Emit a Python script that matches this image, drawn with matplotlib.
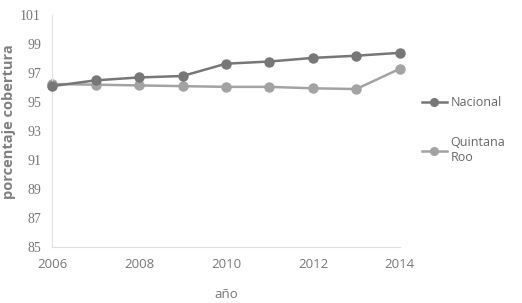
import matplotlib
matplotlib.use("Agg")
import matplotlib.pyplot as plt

years = [2006, 2007, 2008, 2009, 2010, 2011, 2012, 2013, 2014]
nacional = [96.1, 96.5, 96.7, 96.8, 97.65, 97.8, 98.05, 98.2, 98.4]
quintana_roo = [96.25, 96.2, 96.15, 96.1, 96.05, 96.05, 95.95, 95.9, 97.3]
series_labels = ["Nacional", "Quintana\nRoo"]
y_ticks = [85, 87, 89, 91, 93, 95, 97, 99, 101]
x_ticks = [2006, 2008, 2010, 2012, 2014]

fig = plt.figure(figsize=(5.22, 3.03), dpi=100)
ax = fig.add_axes([0.1, 0.185, 0.666, 0.765])

ax.plot(years, nacional, color="#777777", marker="o", markersize=6.5, linewidth=1.8,
        label=series_labels[0], clip_on=False, zorder=3)
ax.plot(years, quintana_roo, color="#a3a3a3", marker="o", markersize=6.5, linewidth=1.8,
        label=series_labels[1], clip_on=False, zorder=2)

ax.set_xlim(2006, 2014)
ax.set_ylim(85, 101)
ax.set_xticks(x_ticks)
ax.set_yticks(y_ticks)

for side in ["top", "right"]:
    ax.spines[side].set_visible(False)
for side in ["left", "bottom"]:
    ax.spines[side].set_color("#e0e0e0")
    ax.spines[side].set_linewidth(0.8)
ax.tick_params(length=0, pad=8, colors="#777777")
for lbl in ax.get_yticklabels():
    lbl.set_fontfamily("Liberation Serif")
    lbl.set_fontsize(10)
for lbl in ax.get_xticklabels():
    lbl.set_fontfamily("Open Sans")
    lbl.set_fontsize(9.5)

ax.set_xlabel("año", fontsize=9.5, color="#777777", family="Open Sans", labelpad=12)
ax.set_ylabel("porcentaje cobertura", fontsize=10.5, color="#808080", family="Open Sans",
              fontweight="bold")
ax.yaxis.set_label_coords(-0.105, 0.54)

leg = ax.legend(loc="upper left", bbox_to_anchor=(1.03, 0.70), frameon=False,
                handlelength=2.0, handletextpad=0.3, labelspacing=2.2, markerscale=0.85,
                prop={"family": "Open Sans", "size": 9})
for t in leg.get_texts():
    t.set_color("#666666")

fig.savefig("out.png", dpi=100)
